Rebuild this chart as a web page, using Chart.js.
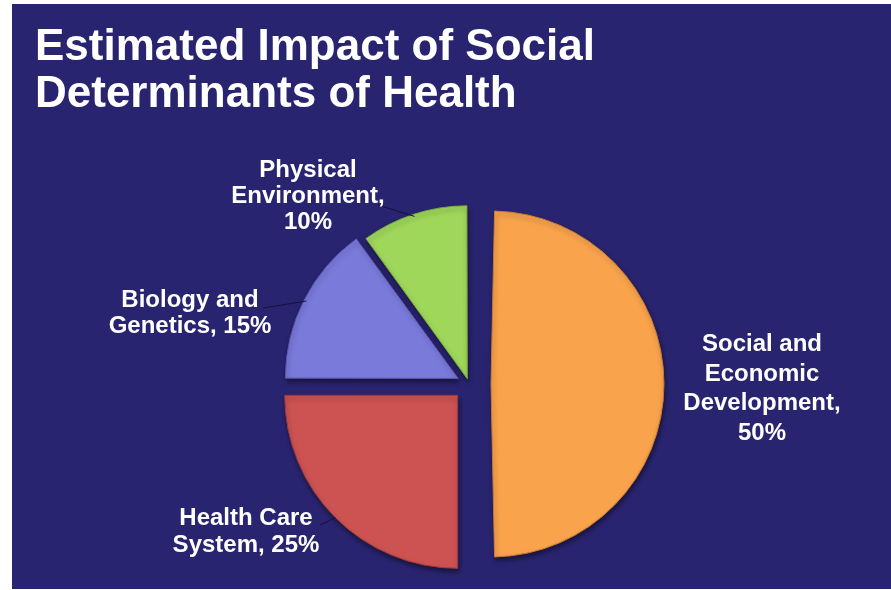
<!DOCTYPE html>
<html>
<head>
<meta charset="utf-8">
<script src="https://cdn.jsdelivr.net/npm/chart.js@4.4.0/dist/chart.umd.min.js"></script>
<style>
    html, body { margin: 0; padding: 0; background: #ffffff; }
    #marco { position: absolute; left: 12px; top: 4px; width: 879px; height: 585px; background: #29246f; overflow: hidden; }
    #titulo { position: absolute; left: 23px; top: 17px; margin: 0; color: #ffffff;
              font: bold 44px "Liberation Sans", Arial, sans-serif; line-height: 47px; white-space: nowrap; }
    canvas { position: absolute; left: 0; top: 0; }
</style>
</head>
<body>
<div id="marco">
    <canvas id="pie-chart" width="879" height="585"></canvas>
    <div id="titulo">Estimated Impact of Social<br>Determinants of Health</div>
</div>
<script>
// datos del grafico
const categorias = ['Social and Economic Development', 'Health Care System', 'Biology and Genetics', 'Physical Environment'];
const valores = [50, 25, 15, 10];
const etiquetas = [
    ['Social and', 'Economic', 'Development,', '50%'],
    ['Health Care', 'System, 25%'],
    ['Biology and', 'Genetics, 15%'],
    ['Physical', 'Environment,', '10%']
];
const colores = ['#f9a34c', '#cd5352', '#7a7adb', '#9fd75a'];
const bordes = ['#c97a2e', '#9c3a3a', '#5555ad', '#76a83a'];
const desplazamientos = [88, 64, 48, 22];

// posicion de cada etiqueta respecto al centro del pastel
const posEtiquetas = [
    { dx: 293, dy: 5, alto: 29.5, linea: null },
    { dx: -223, dy: 148, alto: 27, linea: { dx: -149, dy: 141 } },
    { dx: -279, dy: -71, alto: 26, linea: { dx: -206, dy: -76 } },
    { dx: -161, dy: -188, alto: 26, linea: { dx: -91, dy: -179 } }
];

// el offset de Chart.js agranda el radio de la mitad (semicirculo), se compensa aqui
const corregirRadio = {
    id: 'corregirRadio',
    afterDatasetUpdate(chart, args) {
        args.meta.data.forEach(function (arc) {
            const off = (arc.options.offset || 0) / 4;
            const fix = 1 - Math.sin(Math.min(Math.PI, arc.circumference));
            arc.outerRadius -= off * fix;
        });
    }
};

// sombra debajo de las porciones
const sombra = {
    id: 'sombra',
    beforeDatasetsDraw(chart) {
        const ctx = chart.ctx;
        ctx.save();
        ctx.shadowColor = 'rgba(0, 0, 0, 0.45)';
        ctx.shadowBlur = 5;
        ctx.shadowOffsetX = 1;
        ctx.shadowOffsetY = 3;
    },
    afterDatasetsDraw(chart) {
        chart.ctx.restore();
    }
};

// etiquetas fuera del pastel con lineas guia
const etiquetasFuera = {
    id: 'etiquetasFuera',
    afterDraw(chart) {
        const ctx = chart.ctx;
        const arcs = chart.getDatasetMeta(0).data;
        const cx = arcs[0].x;
        const cy = arcs[0].y;
        ctx.save();
        arcs.forEach(function (arc, i) {
            const p = posEtiquetas[i];
            if (p.linea) {
                const mid = (arc.startAngle + arc.endAngle) / 2;
                const t = (arc.options.offset || 0) / 4;
                const r = arc.outerRadius + t;
                ctx.beginPath();
                ctx.moveTo(cx + Math.cos(mid) * r, cy + Math.sin(mid) * r);
                ctx.lineTo(cx + p.linea.dx, cy + p.linea.dy);
                ctx.strokeStyle = '#14123f';
                ctx.lineWidth = 1;
                ctx.stroke();
            }
            const lineas = etiquetas[i];
            ctx.fillStyle = '#ffffff';
            ctx.font = 'bold 24px "Liberation Sans", Arial, sans-serif';
            ctx.textAlign = 'center';
            ctx.textBaseline = 'middle';
            const y0 = cy + p.dy - (lineas.length - 1) * p.alto / 2;
            lineas.forEach(function (txt, k) {
                ctx.fillText(txt, cx + p.dx, y0 + k * p.alto);
            });
        });
        ctx.restore();
    }
};

document.addEventListener('DOMContentLoaded', function () {
    const ctx = document.getElementById('pie-chart').getContext('2d');
    new Chart(ctx, {
        type: 'pie',
        data: {
            labels: categorias,
            datasets: [{
                data: valores,
                backgroundColor: colores,
                borderColor: bordes,
                borderWidth: 1,
                offset: desplazamientos
            }]
        },
        options: {
            responsive: false,
            animation: false,
            radius: 173,
            layout: {
                padding: { left: 35, right: 0, top: 175, bottom: 0 }
            },
            plugins: {
                legend: { display: false },
                tooltip: { enabled: false }
            }
        },
        plugins: [corregirRadio, sombra, etiquetasFuera]
    });
});
</script>
</body>
</html>
